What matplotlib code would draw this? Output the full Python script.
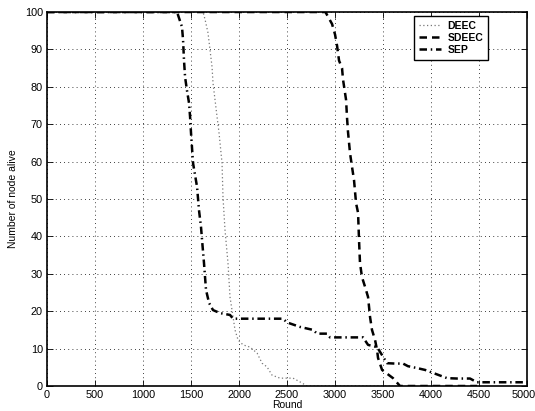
import matplotlib.pyplot as plt
import matplotlib.transforms as mtransforms

plt.rcParams['font.family'] = ['Liberation Sans', 'DejaVu Sans']

# DEEC (dotted)
deec_x = [0, 1560, 1625, 1646, 1677, 1698, 1719, 1729, 1750, 1771, 1792, 1823, 1833,
          1854, 1885, 1906, 1927, 1958, 1990, 2042, 2115, 2188, 2240, 2292, 2344,
          2427, 2563, 2635, 2709, 3600]
deec_y = [100, 100, 100, 98, 94.4, 89.8, 85.3, 81, 76.5, 72, 67.6, 59.6, 50.5,
          41.7, 32.9, 23.8, 20.3, 15, 12.3, 11, 10.4, 8.8, 6.1, 5.1, 2.9,
          2.1, 2.1, 1.1, 0, 0]

# SDEEC (dashed)
sdeec_x = [0, 2900, 2969, 3000, 3021, 3042, 3073, 3083, 3115, 3125, 3135, 3156, 3177,
           3198, 3219, 3240, 3250, 3260, 3281, 3313, 3344, 3365, 3385, 3417, 3438,
           3448, 3490, 3604, 3677, 4480]
sdeec_y = [100, 100, 96.8, 94, 91, 87, 85, 82, 76.5, 71.7, 68, 62.3, 58.6,
           55, 48.9, 46.3, 39, 32.9, 29.1, 26.5, 23.8, 18.4, 15, 12.3, 9.6,
           7.5, 4.3, 2.1, 0, 0]

# SEP (dash-dot)
sep_x = [0, 1354, 1406, 1417, 1427, 1438, 1458, 1479, 1490, 1500, 1521, 1563, 1583,
         1604, 1615, 1635, 1656, 1688, 1729, 1802, 1906, 1938, 2458, 2500, 2635,
         2771, 2813, 2917, 2948, 3292, 3344, 3438, 3542, 3625, 3708, 3760, 3854,
         3938, 4021, 4167, 4270, 4406, 4479, 5000]
sep_y = [100, 100, 96, 92.5, 87, 82.6, 79, 75.7, 72, 67.6, 59.6, 53.2, 47,
         42.5, 39, 32.9, 25.7, 22.2, 20.3, 19.5, 19, 18, 18, 17, 15.8,
         15, 14, 14, 13, 13, 11, 10.4, 6.1, 6, 6, 5.3, 4.8,
         4.3, 3.5, 2.1, 2, 2, 1, 1]

fig = plt.figure(figsize=(5.35, 4.11), dpi=100)
ax = fig.add_axes([0.0879, 0.0608, 0.8972, 0.91])

ax.plot(deec_x, deec_y, color='#777777', linestyle=(0, (1, 2)), lw=0.9, label='DEEC')
ax.plot(sdeec_x, sdeec_y, color='black', linestyle=(0, (3, 2)), lw=1.8, label='SDEEC')
ax.plot(sep_x, sep_y, color='black', linestyle=(0, (3, 1.5, 0.6, 1.5)), lw=1.8, label='SEP')

ax.set_xlim(0, 5000)
ax.set_ylim(0, 100)
ax.set_xticks(range(0, 5001, 500))
ax.set_yticks(range(0, 101, 10))
ax.tick_params(direction='in', top=True, right=True, labelsize=7.8, length=4, width=0.6, pad=3)
ax.grid(True, color='black', linestyle=(0, (1, 4)), lw=0.6)
for s in ax.spines.values():
    s.set_linewidth(1.2)

# nudge the last x label a little so it stays inside the figure
last = ax.get_xticklabels()[-1]
last.set_transform(last.get_transform() +
                   mtransforms.ScaledTranslation(-3 / 100, 0, fig.dpi_scale_trans))

ax.set_xlabel('Round', fontsize=7.5, labelpad=0)
ax.set_ylabel('Number of node alive', fontsize=7.5, labelpad=5)

leg = ax.legend(loc='upper right', bbox_to_anchor=(0.919, 0.989), borderaxespad=0,
                fancybox=False, edgecolor='black', framealpha=1, handlelength=2.2,
                prop={'weight': 'bold', 'size': 7.5}, labelspacing=0.2,
                borderpad=0.45, handletextpad=0.6)
leg.get_frame().set_linewidth(1.0)

fig.savefig('out.png', dpi=100)
